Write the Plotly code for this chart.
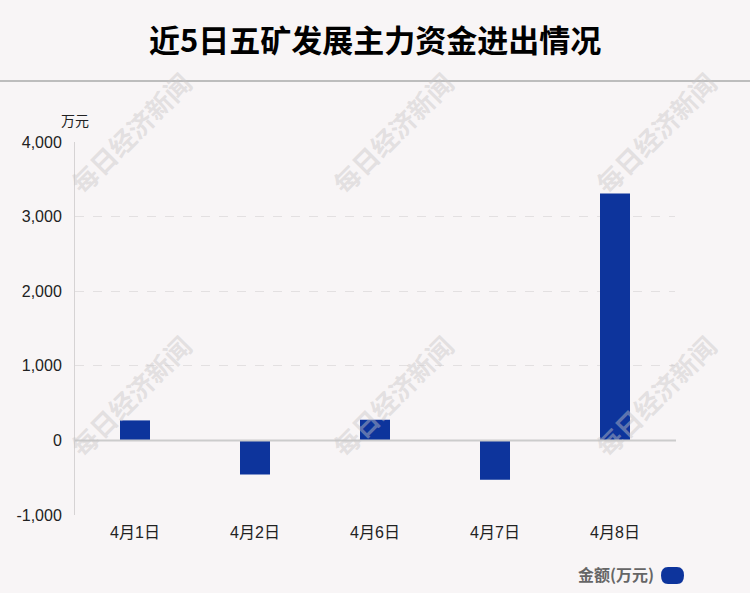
import plotly.graph_objects as go

categories = ["4月1日", "4月2日", "4月6日", "4月7日", "4月8日"]
values = [268, -456, 277, -528, 3311]
y_ticks = [-1000, 0, 1000, 2000, 3000, 4000]
y_tick_labels = ["-1,000", "0", "1,000", "2,000", "3,000", "4,000"]

BG = "#f8f5f6"
BLUE = "#0d349c"
LAT = "'Liberation Sans', Arial, 'Noto Sans CJK SC', sans-serif"
CJK = "'Noto Sans CJK SC', sans-serif"

fig = go.Figure()
fig.add_trace(go.Bar(x=categories, y=values, marker=dict(color=BLUE, line=dict(width=0)),
                     name="金额(万元)", showlegend=False))

W, H = 750, 593
L, R, T, B = 75, 75, 142, 78
PW, PH = W - L - R, H - T - B

def px(x):
    return (x - L) / PW

def py(y):
    return (H - B - y) / PH

annotations = []
for cx in [130, 392, 655]:
    for cy in [132, 395]:
        annotations.append(dict(text="<b>每日经济新闻</b>", x=px(cx), y=py(cy), xref="paper", yref="paper",
                                showarrow=False, textangle=-45,
                                font=dict(size=26, color="rgba(200,198,199,0.45)", family=CJK),
                                xanchor="center", yanchor="middle"))

annotations += [
    dict(text="<b>近5日五矿发展主力资金进出情况</b>", x=px(375), y=py(38), xref="paper", yref="paper",
         showarrow=False, font=dict(size=31, color="#000", family=CJK),
         xanchor="center", yanchor="middle"),
    dict(text="万元", x=px(75), y=py(120), xref="paper", yref="paper", showarrow=False,
         font=dict(size=14, color="#222", family=CJK), xanchor="center", yanchor="middle"),
    dict(text="<b>金额(万元)</b>", x=px(656), y=py(574), xref="paper", yref="paper", showarrow=False,
         font=dict(size=16, color="#666", family=CJK), xanchor="right", yanchor="middle"),
]

shapes = [
    dict(type="line", xref="paper", yref="paper", x0=px(0), x1=px(W), y0=py(81), y1=py(81),
         line=dict(color="#bdbdbd", width=2)),
    dict(type="path", xref="paper", yref="paper",
         path=(f"M {px(668)},{py(567)} L {px(677)},{py(567)} "
               f"Q {px(684)},{py(567)} {px(684)},{py(575.5)} "
               f"Q {px(684)},{py(584)} {px(677)},{py(584)} "
               f"L {px(668)},{py(584)} "
               f"Q {px(661)},{py(584)} {px(661)},{py(575.5)} "
               f"Q {px(661)},{py(567)} {px(668)},{py(567)} Z"),
         fillcolor=BLUE, line=dict(width=0)),
    dict(type="line", xref="paper", yref="y", x0=0, x1=px(676), y0=0, y1=0,
         line=dict(color="#cccccc", width=2)),
]

fig.update_layout(
    width=W, height=H,
    margin=dict(l=L, r=R, t=T, b=B),
    paper_bgcolor=BG, plot_bgcolor=BG,
    bargap=0.75,
    annotations=annotations,
    shapes=shapes,
    font=dict(family=LAT, size=16, color="#222"),
    xaxis=dict(showgrid=False, showline=False, ticks="", tickfont=dict(size=16, color="#222", family=LAT),
               zeroline=False, ticklabelstandoff=6),
    yaxis=dict(range=[-1000, 4000], tickvals=y_ticks, ticktext=y_tick_labels,
               showgrid=True, gridcolor="#e3e0e1", griddash="dash", gridwidth=1,
               zeroline=False, showline=True, linecolor="#d6d3d4", linewidth=1,
               tickfont=dict(size=16, color="#222", family=LAT), ticks="", ticklabelstandoff=9),
)

fig.write_html("out.html", config={"displayModeBar": False},
               post_script="document.body.style.margin='0';document.body.style.padding='0';")
